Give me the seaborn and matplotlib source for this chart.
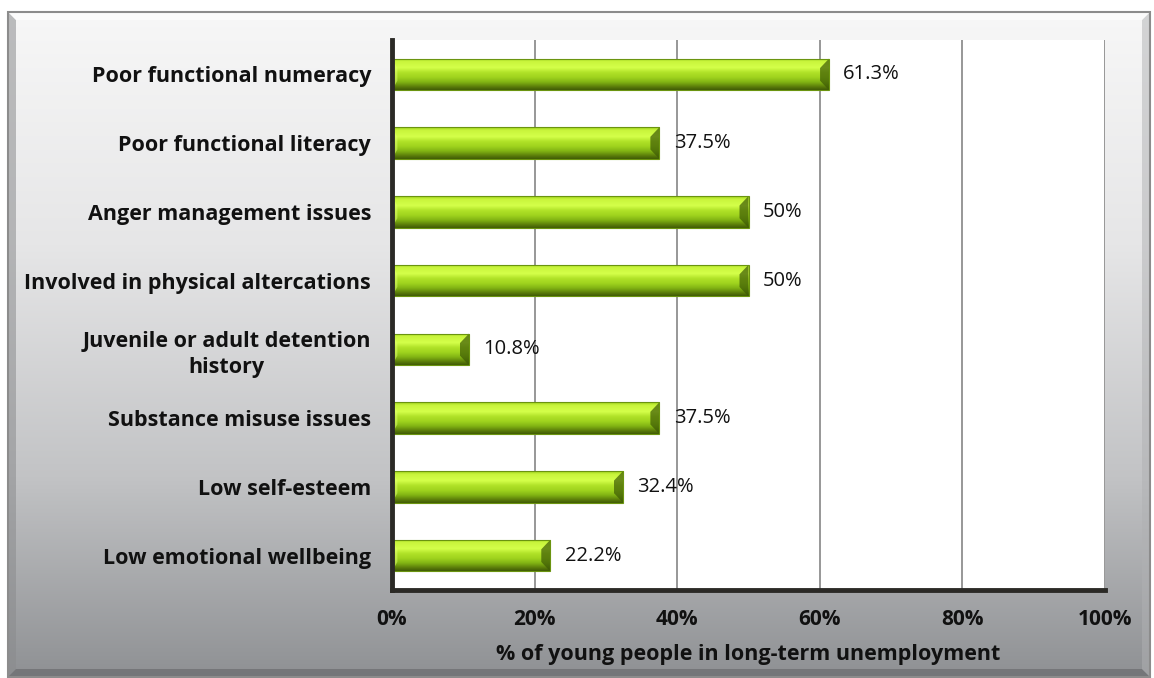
import numpy as np
import pandas as pd
import matplotlib
matplotlib.use("Agg")
import matplotlib.pyplot as plt
import seaborn as sns
from matplotlib.colors import LinearSegmentedColormap
from matplotlib.patches import Rectangle, Polygon

categories = ["Poor functional numeracy", "Poor functional literacy", "Anger management issues",
              "Involved in physical altercations", "Juvenile or adult detention\nhistory",
              "Substance misuse issues", "Low self-esteem", "Low emotional wellbeing"]
values = [61.3, 37.5, 50, 50, 10.8, 37.5, 32.4, 22.2]
value_labels = ["61.3%", "37.5%", "50%", "50%", "10.8%", "37.5%", "32.4%", "22.2%"]
xticks = [0, 20, 40, 60, 80, 100]
xtick_labels = ["0%", "20%", "40%", "60%", "80%", "100%"]
xlabel = "% of young people in long-term unemployment"

df = pd.DataFrame({"cat": categories, "val": values})

sns.set_theme(style="white")
plt.rcParams["font.family"] = ["Open Sans", "DejaVu Sans"]

W, H = 1154, 678
fig = plt.figure(figsize=(W / 100, H / 100), dpi=100)
fig.patch.set_facecolor("white")

# background frame with gradient
bg = fig.add_axes([0, 0, 1, 1], zorder=-5)
bg.set_xlim(0, W)
bg.set_ylim(H, 0)
bg.axis("off")
fx0, fy0, fx1, fy1 = 8, 12, 1150, 677
grad_cmap = LinearSegmentedColormap.from_list(
    "bg", [(0, "#f7f7f7"), (0.35, "#e6e6e7"), (0.7, "#c2c3c5"), (1, "#8f9194")])
g = np.linspace(0, 1, 256).reshape(-1, 1)
bg.imshow(g, cmap=grad_cmap, extent=[fx0, fx1, fy1, fy0], aspect="auto", zorder=0)
bv = 8
bg.add_patch(Polygon([[fx0, fy0], [fx0 + bv, fy0 + bv], [fx0 + bv, fy1 - bv], [fx0, fy1]],
                     closed=True, facecolor="#8a8b8d", alpha=0.55, edgecolor="none", zorder=1))
bg.add_patch(Polygon([[fx0, fy1], [fx0 + bv, fy1 - bv], [fx1 - bv, fy1 - bv], [fx1, fy1]],
                     closed=True, facecolor="#5f6063", alpha=0.55, edgecolor="none", zorder=1))
bg.add_patch(Polygon([[fx1, fy0], [fx1 - bv, fy0 + bv], [fx1 - bv, fy1 - bv], [fx1, fy1]],
                     closed=True, facecolor="#b0b1b3", alpha=0.5, edgecolor="none", zorder=1))
bg.add_patch(Polygon([[fx0, fy0], [fx0 + bv, fy0 + bv], [fx1 - bv, fy0 + bv], [fx1, fy0]],
                     closed=True, facecolor="#ffffff", alpha=0.6, edgecolor="none", zorder=1))
bg.add_patch(Rectangle((fx0, fy0), fx1 - fx0, fy1 - fy0, facecolor="none",
                       edgecolor="#8c8c8c", lw=1.5, zorder=2))

# main axes
left, right, top, bottom = 392, 1105, 40, 590
ax = fig.add_axes([left / W, 1 - bottom / H, (right - left) / W, (bottom - top) / H])
ax.set_facecolor("white")

sns.barplot(data=df, x="val", y="cat", orient="h", color="#9fd41c", width=0.46,
            ax=ax, zorder=3, saturation=1)

ax.set_xlim(0, 100)
ylim = ax.get_ylim()

bar_cmap = LinearSegmentedColormap.from_list(
    "bar", [(0, "#9ccf1a"), (0.1, "#c9f53c"), (0.3, "#d4ff4a"), (0.45, "#b0e228"),
            (0.6, "#a0d41e"), (0.75, "#82b414"), (0.9, "#5a7c0a"), (1, "#3f5a06")])
# x-extent of end bevel in data units (~9 px)
dx = 9 / (right - left) * 100
for p in list(ax.patches):
    x0, y0 = p.get_x(), p.get_y()
    w, h = p.get_width(), p.get_height()
    im = ax.imshow(g, cmap=bar_cmap, extent=[x0, x0 + w, y0 + h, y0], aspect="auto",
                   origin="upper", zorder=4)
    im.set_clip_path(p)
    # left-end bevel (light)
    ax.add_patch(Polygon([[x0, y0], [x0 + dx * 0.6, y0 + h * 0.3], [x0 + dx * 0.6, y0 + h * 0.7],
                          [x0, y0 + h]], closed=True,
                         facecolor="#e0ff70", alpha=0.5, edgecolor="none", zorder=5))
    # right-end bevel (darker)
    ax.add_patch(Polygon([[x0 + w - dx, y0 + h * 0.3], [x0 + w, y0], [x0 + w, y0 + h],
                          [x0 + w - dx, y0 + h * 0.7]], closed=True,
                         facecolor="#3d5a05", alpha=0.7, edgecolor="none", zorder=5))
    ax.add_patch(Rectangle((x0, y0), w, h, facecolor="none", edgecolor="#6b9410",
                           lw=0.8, zorder=6))
    p.set_visible(False)

ax.set_ylim(ylim)

for i, (v, lab) in enumerate(zip(values, value_labels)):
    ax.text(v + 2.0, i, lab, va="center", ha="left", fontsize=14.5, color="#111111", zorder=7)

ax.set_xticks(xticks)
ax.set_xticklabels(xtick_labels, fontsize=15, fontweight="bold", color="#111111")
ax.set_xlabel(xlabel, fontsize=15.5, fontweight="bold", color="#111111", labelpad=10)
ax.set_ylabel("")
ax.tick_params(axis="y", length=0, pad=15)
for t in ax.get_yticklabels():
    t.set_fontsize(15.5)
    t.set_fontweight("bold")
    t.set_color("#111111")
    t.set_linespacing(1.3)
    t.set_multialignment("center")
ax.set_yticks(np.arange(len(categories) + 1) - 0.5, minor=True)
ax.tick_params(axis="y", which="minor", length=6, width=3, color="#2b2a26", direction="out")
ax.tick_params(axis="x", which="major", length=6, width=3, color="#2b2a26", direction="out", pad=8)

ax.grid(axis="x", color="#8f8f8f", lw=1.3, zorder=1)
ax.set_axisbelow(True)
for s in ["top", "right"]:
    ax.spines[s].set_visible(False)
for s in ["left", "bottom"]:
    ax.spines[s].set_color("#2b2a26")
    ax.spines[s].set_linewidth(3.5)
    ax.spines[s].set_zorder(8)

fig.savefig("out.png", dpi=100)
